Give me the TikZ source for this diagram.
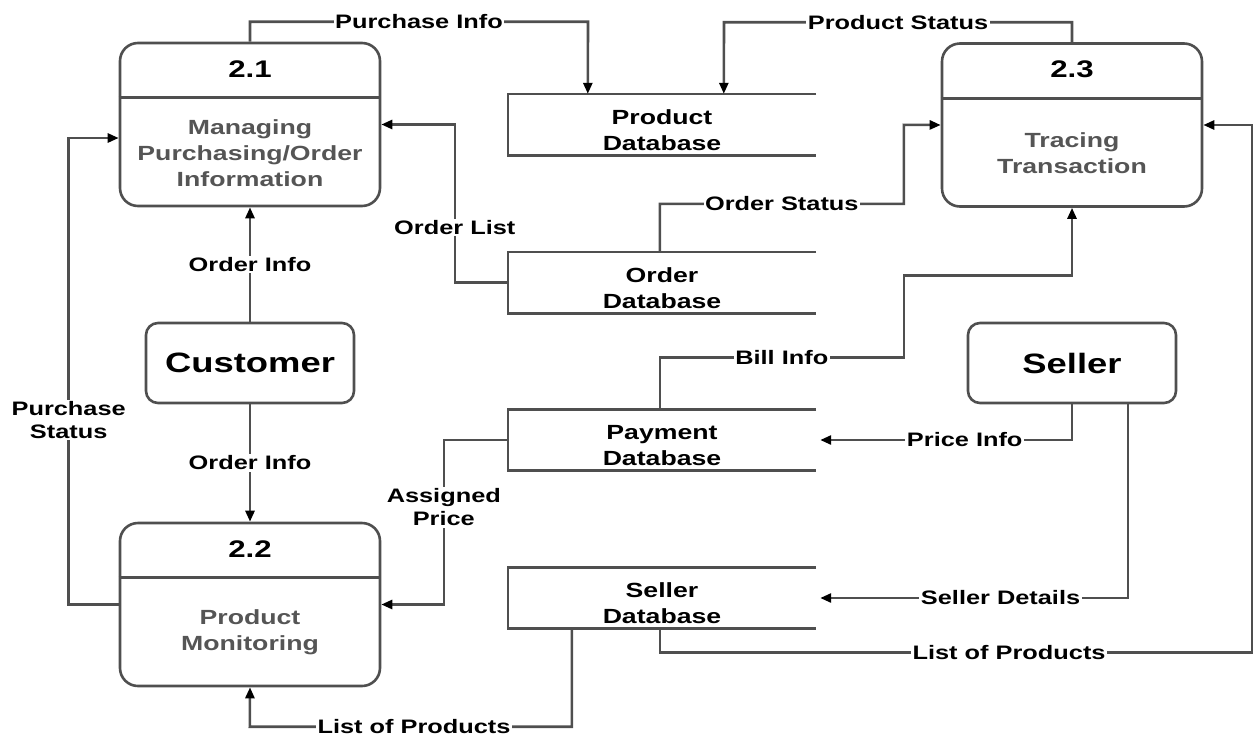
\documentclass[tikz,border=0pt]{standalone}
\usepackage{fontspec}
\setmainfont{Liberation Sans}[FakeStretch=1.3]
\usetikzlibrary{arrows.meta,calc}
\definecolor{flowline}{HTML}{4F4F4F}
\definecolor{bodytext}{HTML}{555555}
\begin{document}
\begin{tikzpicture}[x=1pt,y=-1pt,
  flow/.style={draw=flowline, line width=2.6pt,
    -{Triangle[length=11pt,width=9pt,color=black]}},
  outline/.style={draw=flowline, line width=2.6pt},
  process/.style={outline, rounded corners=18pt, minimum width=260pt,
    minimum height=163pt, inner sep=0pt},
  entity/.style={outline, rounded corners=12pt, minimum width=208pt,
    minimum height=80pt, inner sep=0pt,
    font=\bfseries\fontsize{28}{32}\selectfont},
  store/.style={minimum width=308pt, minimum height=61pt, inner sep=0pt},
  pnum/.style={font=\bfseries\fontsize{24}{28}\selectfont},
  ptext/.style={align=center, text=bodytext,
    font=\bfseries\fontsize{20.5}{26}\selectfont},
  dbtext/.style={align=center, font=\bfseries\fontsize{20.5}{26}\selectfont},
  lbl/.style={fill=white, inner sep=1.5pt, align=center,
    font=\bfseries\fontsize{19.5}{23}\selectfont}]

\useasboundingbox (0,0) rectangle (1258,737);

% processes
\node[process] (p21) at (250,124.5) {};
\node[process] (p23) at (1072,125) {};
\node[process] (p22) at (250,604.5) {};
\foreach \p in {p21,p23,p22}
  \draw[outline] ([yshift=-56pt]\p.north west) -- ([yshift=-56pt]\p.north east);
\node[pnum] (p21num) at ([yshift=-27pt]p21.north) {2.1};
\node[pnum] (p23num) at ([yshift=-27pt]p23.north) {2.3};
\node[pnum] (p22num) at ([yshift=-27pt]p22.north) {2.2};
\node[ptext] (p21txt) at ([yshift=-29pt]p21.center) {Managing\\Purchasing/Order\\Information};
\node[ptext] (p23txt) at ([yshift=-28pt]p23.center) {Tracing\\Transaction};
\node[ptext] (p22txt) at ([yshift=-28pt]p22.center) {Product\\Monitoring};

% external entities
\node[entity] (customer) at (250,363) {Customer};
\node[entity] (seller) at (1072,363) {Seller};

% data stores (open on the right)
\node[store] (prod) at (662,124.5) {};
\node[store] (order) at (662,282.5) {};
\node[store] (payment) at (662,440) {};
\node[store] (sellerdb) at (662,598) {};
\foreach \s in {prod,order,payment,sellerdb}
  \draw[outline] (\s.north east) -- (\s.north west) -- (\s.south west) -- (\s.south east);
\node[dbtext] (prodtxt) at ([yshift=-5.5pt]prod.center) {Product\\Database};
\node[dbtext] (ordertxt) at ([yshift=-5.5pt]order.center) {Order\\Database};
\node[dbtext] (paytxt) at ([yshift=-5.5pt]payment.center) {Payment\\Database};
\node[dbtext] (sellertxt) at ([yshift=-5.5pt]sellerdb.center) {Seller\\Database};

% data flows
\draw[flow] (p21.north) -- ++(0,-20) -- node[lbl]{Purchase Info} ++(338,0)
  -- ([xshift=80pt]prod.north west);
\draw[flow] (p23.north) -- ++(0,-20) -- node[lbl]{Product Status} ++(-348,0)
  -- ([xshift=216pt]prod.north west);
\draw[flow] (order.west) -- ++(-53,0) -- node[lbl,pos=0.35]{Order List} ++(0,-158)
  -- (p21.east);
\draw[flow] ([xshift=152pt]order.north west) -- ++(0,-48)
  -- node[lbl]{Order Status} ++(244,0) -- ++(0,-79) -- (p23.west);
\draw[flow] ([xshift=152pt]payment.north west) -- ++(0,-52)
  -- node[lbl]{Bill Info} ++(244,0) -- ++(0,-82) -| (p23.south);
\draw[flow] (customer.north) -- node[lbl]{Order Info} (p21.south);
\draw[flow] (customer.south) -- node[lbl]{Order Info} (p22.north);
\draw[flow] (p22.west) -- ++(-50,0)
  -- node[lbl,pos=0.395]{Purchase\\Status} ++(0,-466.5)
  -- ([yshift=-13.5pt]p21.west);
\draw[flow] (payment.west) -- ++(-64,0)
  -- node[lbl,pos=0.41]{Assigned\\Price} ++(0,164.5) -- (p22.east);
\draw[flow] (seller.south) |- node[lbl,pos=0.713]{Price Info}
  ([xshift=4pt]payment.east);
\draw[flow] ([xshift=56pt]seller.south) |- node[lbl,pos=0.707]{Seller Details}
  ([xshift=4pt]sellerdb.east);
\draw[flow] ([xshift=152pt]sellerdb.south west) -- ++(0,24)
  -- node[lbl,pos=0.59]{List of Products} ++(592,0) |- (p23.east);
\draw[flow] ([xshift=64pt]sellerdb.south west) -- ++(0,98)
  -- node[lbl,pos=0.49]{List of Products} ++(-322,0) -- (p22.south);
\end{tikzpicture}
\end{document}
